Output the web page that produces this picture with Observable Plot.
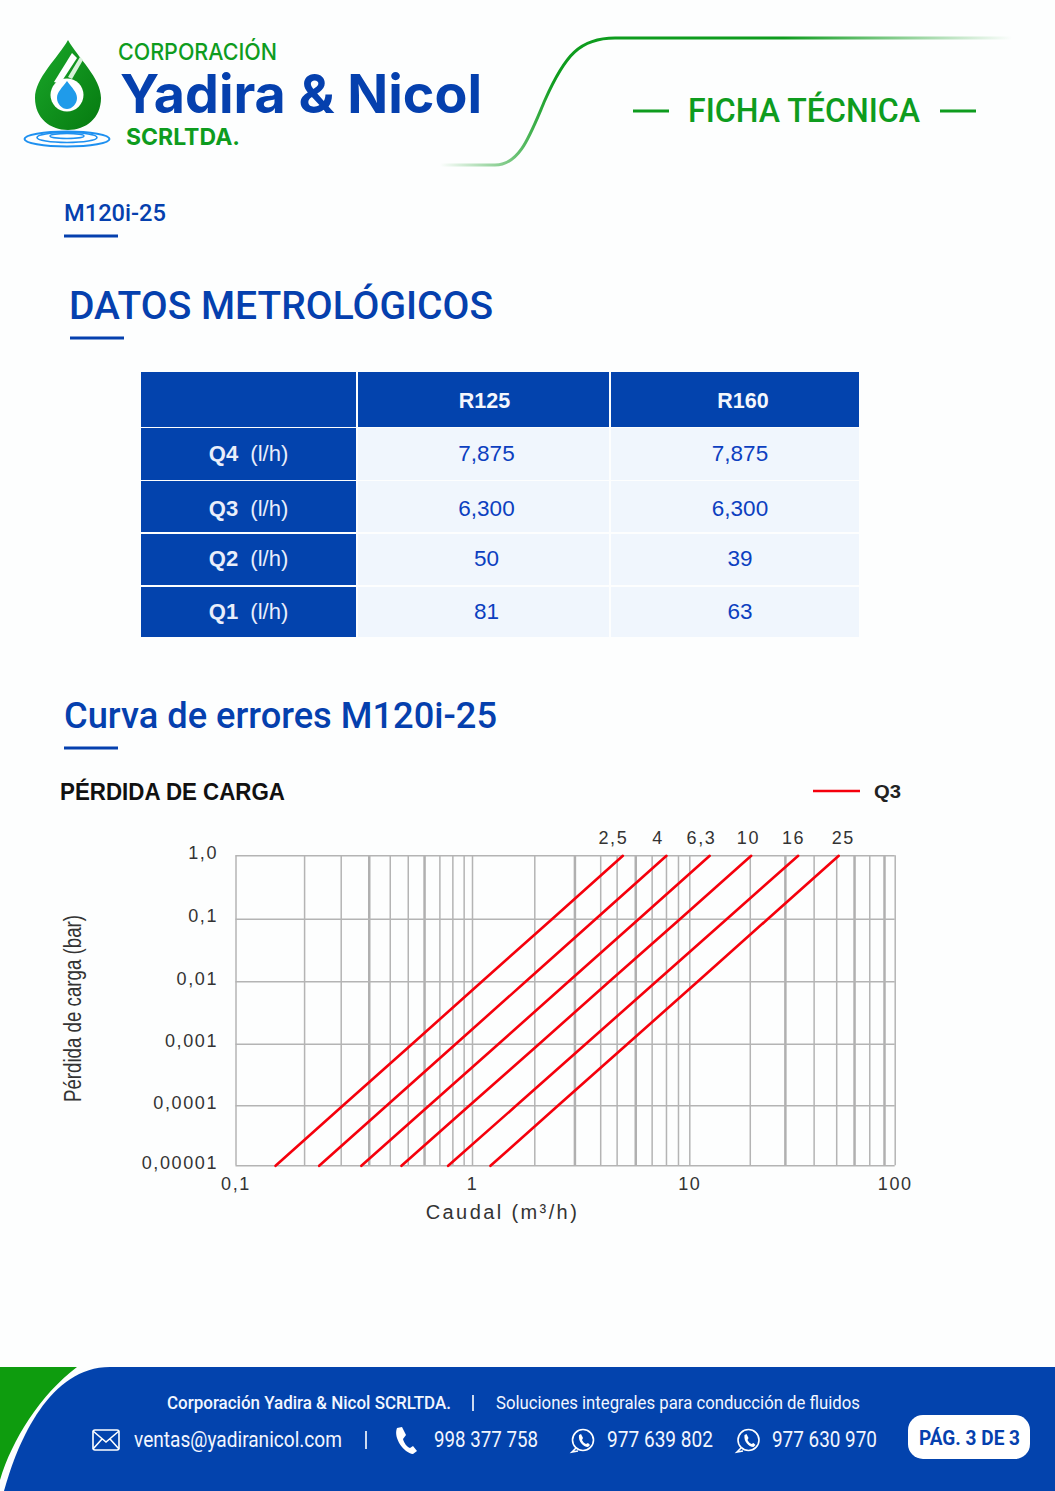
<!DOCTYPE html>
<html lang="es"><head><meta charset="utf-8">
<script src="https://cdn.jsdelivr.net/npm/d3@7"></script>
<script src="https://cdn.jsdelivr.net/npm/@observablehq/plot@0.6"></script>
<style>
html,body{margin:0;padding:0;background:#fdfefe}
#page{position:relative;width:1055px;height:1491px;overflow:hidden;background:#fdfefe;font-family:Roboto,"Liberation Sans",sans-serif}
#deco{position:absolute;left:0;top:0}
.t{position:absolute;white-space:nowrap;line-height:1;transform-origin:left center}
.c{position:absolute;display:flex;align-items:center;justify-content:center;font-family:"Liberation Sans",Arial,sans-serif}
.c span{display:inline-block;white-space:pre}
.c b{font-weight:400}
#chart{position:absolute;left:0;top:820px}
</style></head><body><div id="page">
<svg id="deco" width="1055" height="1491" viewBox="0 0 1055 1491" fill="none">
<defs>
<linearGradient id="hg" x1="440" x2="1012" y1="0" y2="0" gradientUnits="userSpaceOnUse">
<stop offset="0" stop-color="#0e9c1e" stop-opacity="0"/><stop offset=".12" stop-color="#0e9c1e" stop-opacity=".55"/><stop offset=".2" stop-color="#0e9c1e"/><stop offset=".6" stop-color="#0e9c1e"/><stop offset="1" stop-color="#0e9c1e" stop-opacity="0"/>
</linearGradient>
<linearGradient id="dg" x1="0" x2="1" y1="0" y2="1"><stop offset="0" stop-color="#1aa82a"/><stop offset="1" stop-color="#067a10"/></linearGradient>
</defs>
<path d="M440 165 H495 C520 165 530 135 545 100 C565 55 580 38 615 38 H1012" stroke="url(#hg)" stroke-width="3"/>
<path d="M68 40 C58 58 35 78 35 98 C35 118 50 130 68 130 C86 130 101 118 101 98 C101 78 78 58 68 40Z" fill="url(#dg)"/>
<path d="M72 53 L77 58 L60 84 L54 82Z" fill="#fff"/>
<path d="M80 57 L83 60 L72 79 L68 77Z" fill="#d8f2da"/>
<circle cx="67" cy="95" r="16.500" fill="#fff"/>
<path d="M67 81 C62 88 57 92 57 98 C57 104 62 109 67 109 C72 109 77 104 77 98 C77 92 72 88 67 81Z" fill="#1f9bea"/>
<ellipse cx="67" cy="139" rx="42.500" ry="7.500" stroke="#1e90f0" stroke-width="2"/>
<ellipse cx="67" cy="137.500" rx="30" ry="5" stroke="#1e90f0" stroke-width="1.6"/>
<ellipse cx="67" cy="136" rx="17" ry="2.500" stroke="#1e90f0" stroke-width="1.4"/>
<path d="M633 111 H669 M940 111 H976" stroke="#0e9c1e" stroke-width="3"/>
<path d="M64 236 H118 M70 338 H124 M64 748 H118" stroke="#0540ae" stroke-width="3"/>
<path d="M813 791 H860" stroke="#f5000c" stroke-width="2.5"/>
<path d="M0 1367 H77 C40 1395 12 1440 0 1480Z" fill="#0e9c0e"/>
<path d="M110 1367 H1055 V1491 H4 C18 1440 50 1367 110 1367Z" fill="#0343ad"/>
<rect x="908" y="1415" width="122" height="44" rx="15" fill="#fff"/>
<g stroke="#fff" stroke-width="1.6">
<rect x="93" y="1430" width="26" height="20" rx="2"/><path d="M93 1431 L106 1442 L119 1431 M93 1449 L102 1439 M119 1449 L110 1439"/>
<path d="M473 1395 V1411 M366 1431 V1449"/>
<circle cx="583" cy="1440" r="10.500"/><path d="M576 1448 L572 1452 L578 1451"/>
<circle cx="748.500" cy="1440" r="10.500"/><path d="M741 1448 L737 1452 L743 1451"/>
</g>
<path d="M397 1428 L402 1427 L406 1435 L403 1439 C404 1443 407 1447 410 1448 L413 1446 L417 1451 L413 1454 C404 1453 393 1438 397 1428Z" fill="#fff"/>
<path d="M579 1435 L581 1434 L583 1438 L582 1440 C583 1442 584 1443 586 1444 L588 1443 L590 1445 L588 1447 C583 1447 578 1441 579 1435Z" fill="#fff"/>
<path d="M744.500 1435 L746.500 1434 L748.500 1438 L747.500 1440 C748.500 1442 749.500 1443 751.500 1444 L753.500 1443 L755.500 1445 L753.500 1447 C748.500 1447 743.500 1441 744.500 1435Z" fill="#fff"/>
</svg>
<div id="chart"></div>
</div>
<script>
// ---------- chart data ----------
const yTicks = [1, 0.1, 0.01, 0.001, 0.0001, 0.00001];
const yTickLabels = ["1,0", "0,1", "0,01", "0,001", "0,0001", "0,00001"];
const xTicks = [0.1, 1, 10, 100];
const xTickLabels = ["0,1", "1", "10", "100"];
const gridThin = [0.1, 0.195, 0.2785, 0.449, 0.535, 0.728, 0.826, 0.922, 1, 1.935, 3.89, 4.63, 6.71, 7.81, 8.87, 10, 19.7, 40.3, 51.9, 75.2, 100];
const gridThick = [0.366, 0.627, 2.96, 5.64, 29.2, 63.4, 88.7];
const curveNames = ["2,5", "4", "6,3", "10", "16", "25"];
const curveLabelX = [4.45, 7.15, 11.4, 19.3, 32, 55.9];
const curve25 = [0.147, 0.2826, 0.554, 1.102, 2.32, 4.92];
const curve4 = [0.2248, 0.433, 0.847, 1.753, 3.68, 7.81];
const curve63 = [0.339, 0.654, 1.313, 2.76, 5.81, 12.5];
const curve10 = [0.501, 0.968, 2.02, 4.25, 9.0, 19.9];
const curve16 = [0.789, 1.586, 3.31, 6.99, 15.1, 33.7];
const curve250 = [1.21, 2.47, 5.15, 10.9, 23.9, 53.1];
const curvePressure = [0.00001, 0.0001, 0.001, 0.01, 0.1, 1];
const curves = [curve25, curve4, curve63, curve10, curve16, curve250];
const curveRows = curves.flatMap((xs, i) => xs.map((q, j) => ({name: curveNames[i], q, p: curvePressure[j]})));
// ---------- table data ----------
const tableCols = ["R125", "R160"];
const tableRows = ["Q4", "Q3", "Q2", "Q1"];
const r125 = ["7,875", "6,300", "50", "81"];
const r160 = ["7,875", "6,300", "39", "63"];

const gridColor = "#b4b4b4";
const chart = Plot.plot({
  width: 1055, height: 410,
  marginLeft: 235.5, marginRight: 160.3, marginTop: 35.3, marginBottom: 64.7,
  style: {fontFamily: '"Liberation Sans",Arial,sans-serif', fontSize: "18px", background: "transparent", color: "#333"},
  x: {type: "log", domain: [0.1, 1, 10, 100], range: [235.5, 472, 689.3, 894.7]},
  y: {type: "log", domain: [0.00001, 0.0001, 0.001, 0.01, 0.1, 1], range: [345.3, 285.3, 223.7, 161.3, 98.7, 35.3]},
  marks: [
    Plot.ruleX(gridThin, {x: d => d, stroke: gridColor, strokeWidth: 1.5}),
    Plot.ruleX(gridThick, {x: d => d, stroke: "#b0b0b0", strokeWidth: 2.5}),
    Plot.ruleY(yTicks, {y: d => d, stroke: gridColor, strokeWidth: 1.5}),
    Plot.line(curveRows, {x: "q", y: "p", z: "name", stroke: "#f5000c", strokeWidth: 2.6}),
    Plot.axisX(xTicks, {anchor: "bottom", tickSize: 0, tickPadding: 11, label: null, fontSize: 18, tickFormat: d => xTickLabels[xTicks.indexOf(d)]}),
    Plot.axisY(yTicks, {anchor: "left", tickSize: 0, tickPadding: 18, label: null, fontSize: 18, dy: -3, tickFormat: d => yTickLabels[yTicks.indexOf(d)]}),
    Plot.text(curveNames, {x: curveLabelX, y: curveNames.map(() => 1), text: d => d, dy: -18, fontSize: 18}),
    Plot.text(["Caudal (m³/h)"], {x: [1.374], y: [0.00001], text: d => d, dy: 47, fontSize: 20}),
    Plot.text(["Pérdida de carga (bar)"], {frameAnchor: "left", textAnchor: "middle", y: [0.00373], text: d => d, rotate: -90, dx: -162, fontSize: 23})
  ]
});
chart.style.letterSpacing = "1.6px";
document.getElementById("chart").append(chart);
// the reference's axis title is condensed: fit it to its read length
d3.select(chart).selectAll("text").filter(function(){return this.textContent.startsWith("Pérdida")})
  .style("letter-spacing", "0").attr("textLength", 187).attr("lengthAdjust", "spacingAndGlyphs");
d3.select(chart).selectAll("text").filter(function(){return this.textContent.startsWith("Caudal")}).style("letter-spacing", "2.4px");

// ---------- page furniture ----------
const page = document.getElementById("page");
function put(text, x, yc, w, css) {
  const s = document.createElement("div");
  s.className = "t"; s.textContent = text; s.style.cssText = css; s.style.left = x + "px";
  page.append(s);
  const r = s.getBoundingClientRect();
  s.style.top = (yc - r.height / 2) + "px";
  s.style.transform = `scaleX(${w / r.width})`;
}
const blue = "#0540ae", green = "#0e9c1e";
const sans = 'font-family:Inter,"Open Sans",sans-serif;';
const rb = "font-family:Roboto,sans-serif;";
const lib = 'font-family:"Liberation Sans",Arial,sans-serif;';
put("CORPORACIÓN", 118, 52, 159, `${sans}font-size:23px;font-weight:500;color:${green}`);
put("Yadira & Nicol", 120, 94, 362, `${sans}font-size:54px;line-height:.8;font-weight:700;color:${blue}`);
put("SCRLTDA.", 126, 137, 114, `${sans}font-size:23px;font-weight:700;color:${green}`);
put("FICHA TÉCNICA", 688, 110, 232, `${rb}font-size:34px;font-weight:500;color:${green}`);
put("M120i-25", 64, 213, 102, `${rb}font-size:24px;font-weight:500;color:${blue}`);
put("DATOS METROLÓGICOS", 69, 306, 424, `${rb}font-size:39px;font-weight:500;color:${blue}`);
put("Curva de errores M120i-25", 64, 716, 433, `${rb}font-size:36px;font-weight:500;color:${blue}`);
put("PÉRDIDA DE CARGA", 60, 792, 225, `${lib}font-size:23px;font-weight:700;color:#111`);
put("Q3", 874, 792, 27, `${lib}font-size:18px;font-weight:700;color:#222`);

function cell(html, l, t, w, h, bg, color, fw, size, dx, dy) {
  const d = document.createElement("div");
  d.className = "c";
  d.style.cssText = `left:${l}px;top:${t}px;width:${w}px;height:${h}px;background:${bg};color:${color};font-weight:${fw};font-size:${size}px`;
  d.innerHTML = `<span style="transform:translate(${dx}px,${dy}px)">${html}</span>`;
  page.append(d);
}
const head = "#0343ad", light = "#f0f6fd";
const colL = [358, 611], colW = [251, 248];
const rowT = [428, 481, 534, 587], rowH = [52, 51, 51, 50];
const headDx = [1, 8], valDx = [3, 5], rowDy = [0, 1.5, -1, 0];
cell("", 141, 372, 215, 55, head, "#fff", 700, 22, 0, 0);
tableCols.forEach((c, i) => cell(c, colL[i], 372, colW[i], 55, head, "#f4f7fd", 700, 21.500, headDx[i], 2));
tableRows.forEach((r, j) => {
  cell(r + "  <b>(l/h)</b>", 141, rowT[j], 215, rowH[j], head, "#e9eefb", 700, 22, 0, rowDy[j]);
  cell(r125[j], colL[0], rowT[j], colW[0], rowH[j], light, "#0c3fc0", 400, 22.500, valDx[0], rowDy[j]);
  cell(r160[j], colL[1], rowT[j], colW[1], rowH[j], light, "#0c3fc0", 400, 22.500, valDx[1], rowDy[j]);
});

const wh = "color:#f2f6ff;";
put("Corporación Yadira & Nicol SCRLTDA.", 167, 1403, 284, `${rb}font-size:18px;font-weight:500;${wh}`);
put("Soluciones integrales para conducción de fluidos", 496, 1403, 364, `${rb}font-size:18px;font-weight:400;${wh}`);
put("ventas@yadiranicol.com", 134, 1440, 208, `${rb}font-size:22px;${wh}`);
put("998 377 758", 434, 1440, 104, `${rb}font-size:22px;${wh}`);
put("977 639 802", 607, 1440, 106, `${rb}font-size:22px;${wh}`);
put("977 630 970", 772, 1440, 105, `${rb}font-size:22px;${wh}`);
put("PÁG. 3 DE 3", 919, 1438, 101, `${rb}font-size:20px;font-weight:700;color:${blue}`);
</script>
</body></html>
